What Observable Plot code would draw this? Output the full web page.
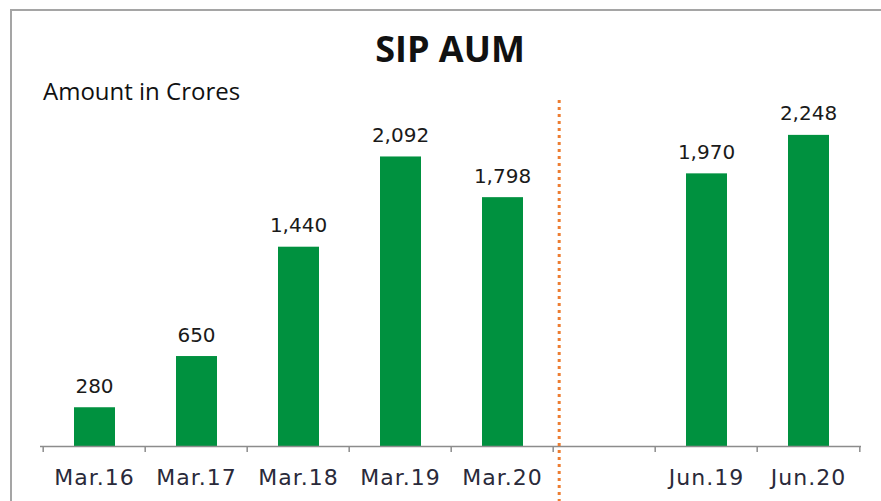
<!DOCTYPE html>
<html>
<head>
<meta charset="utf-8">
<script src="https://cdn.jsdelivr.net/npm/d3@7"></script>
<script src="https://cdn.jsdelivr.net/npm/@observablehq/plot@0.6"></script>
<style>
  html, body { margin: 0; padding: 0; background: #fff; overflow: hidden; }
  #wrap { position: relative; width: 881px; height: 501px; overflow: hidden; background: #fff; }
  #frame { position: absolute; left: 10px; top: 9px; width: 900px; height: 520px; border: 2px solid #a5a5a5; box-sizing: border-box; }
  #chart { position: absolute; left: 0; top: 0; }
  #title { position: absolute; left: 0; width: 900px; top: 27px; text-align: center; font-family: "Open Sans", sans-serif; font-weight: 700; font-size: 36px; color: #111; line-height: 44px; }
  #subtitle { position: absolute; left: 43px; top: 76px; font-family: "Open Sans", sans-serif; font-size: 24px; color: #111; line-height: 30px; }
  #chart svg g[aria-label="x-axis tick label"] text { letter-spacing: 1px; }
</style>
</head>
<body>
<div id="wrap">
  <div id="frame"></div>
  <div id="chart"></div>
  <div id="title">SIP AUM</div>
  <div id="subtitle">Amount in Crores</div>
</div>
<script>
// Data
const categories = ["Mar.16", "Mar.17", "Mar.18", "Mar.19", "Mar.20", " ", "Jun.19", "Jun.20"];
const values = [280, 650, 1440, 2092, 1798, null, 1970, 2248];
const dividerCategory = " ";

const data = categories.map((c, i) => ({category: c, value: values[i]}))
  .filter(d => d.value != null);

const W = 881, H = 501;
const mL = 40, mR = 20, mT = 100, mB = 55;
const yMax = 2500;
const bw = (W - mL - mR) / categories.length;
const pxPerUnit = (H - mT - mB) / yMax;
const tickLen = 6 / pxPerUnit;
const fmt = d3.format(",");

const chart = Plot.plot({
  width: W,
  height: H,
  marginLeft: mL,
  marginRight: mR,
  marginTop: mT,
  marginBottom: mB,
  style: {background: "transparent", overflow: "visible"},
  x: {domain: categories, padding: 0, align: 0.5},
  y: {domain: [0, yMax], axis: null},
  marks: [
    Plot.barY(data, {x: "category", y: "value", fill: "#00913f", insetLeft: 31, insetRight: 30}),
    Plot.ruleY([0], {stroke: "#8c8c8c", strokeWidth: 1.5}),
    Plot.ruleX(categories, {x: d => d, y1: 0, y2: -tickLen, dx: -bw / 2, stroke: "#8c8c8c", strokeWidth: 1.5}),
    Plot.ruleX([categories[categories.length - 1]], {x: d => d, y1: 0, y2: -tickLen, dx: bw / 2, stroke: "#8c8c8c", strokeWidth: 1.5}),
    Plot.ruleX([dividerCategory], {x: d => d, y1: yMax, y2: -500, dx: -bw / 2 + 6, stroke: "#ed7d31", strokeWidth: 3, strokeDasharray: "3,4"}),
    Plot.text(data, {x: "category", y: "value", text: d => fmt(d.value), lineAnchor: "bottom", dy: -15, fontSize: 20, fontFamily: "DejaVu Sans", fill: "#1a1a1a"}),
    Plot.axisX({tickSize: 0, tickPadding: 23, fontSize: 22, fontFamily: "DejaVu Sans", fill: "#2a2a3a", label: null, tickFormat: d => d.trim()})
  ]
});
document.getElementById("chart").appendChild(chart);
</script>
</body>
</html>
